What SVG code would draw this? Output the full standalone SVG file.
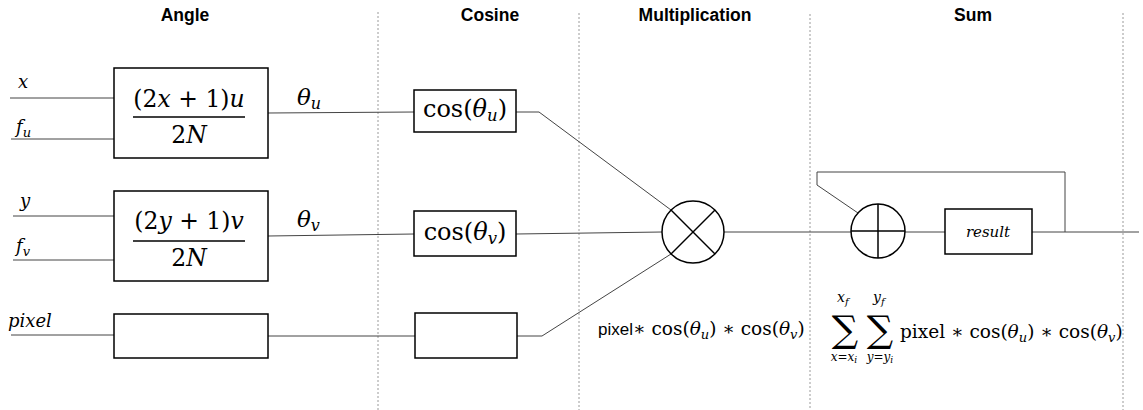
<svg xmlns="http://www.w3.org/2000/svg" width="1143" height="410" viewBox="0 0 1143 410">
<style>
.title{font-family:"Liberation Sans",Arial,sans-serif;font-weight:bold;font-size:17.5px;fill:#000;text-anchor:middle}
.m{font-family:"DejaVu Serif","Liberation Serif",serif;fill:#000}
.i{font-style:italic}
.box{fill:#fff;stroke:#000;stroke-width:1.5}
.sep{stroke:#9a9a9a;stroke-width:1;stroke-dasharray:2,2;fill:none}
.wire{stroke:#444;stroke-width:1;fill:none}
.sym{fill:#fff;stroke:#000;stroke-width:1.5}
.symline{stroke:#000;stroke-width:1.5}
.sans{font-family:"Liberation Sans",Arial,sans-serif}
</style>
<rect width="1143" height="410" fill="#fff"/>
<g id="separators">
<line class="sep" x1="378" y1="12" x2="378" y2="410"/>
<line class="sep" x1="579" y1="13" x2="579" y2="410"/>
<line class="sep" x1="810" y1="14" x2="810" y2="410"/>
<line class="sep" x1="1123" y1="13" x2="1123" y2="410"/>
</g>
<g id="titles">
<text class="title" x="185" y="21">Angle</text>
<text class="title" x="490" y="21">Cosine</text>
<text class="title" x="695" y="21">Multiplication</text>
<text class="title" x="973" y="21">Sum</text>
</g>
<g id="connectors">
<line class="wire" x1="10" y1="98" x2="114" y2="98"/>
<line class="wire" x1="11" y1="139" x2="114" y2="139"/>
<line class="wire" x1="13" y1="216" x2="114" y2="216"/>
<line class="wire" x1="13" y1="260" x2="114" y2="260"/>
<line class="wire" x1="11" y1="335" x2="114" y2="335"/>
<line class="wire" x1="268" y1="113" x2="414" y2="112"/>
<line class="wire" x1="268" y1="236" x2="414" y2="234"/>
<line class="wire" x1="268" y1="336" x2="415" y2="336"/>
<polyline class="wire" points="516,112 539,112 671,210"/>
<line class="wire" x1="516" y1="234" x2="662" y2="232"/>
<polyline class="wire" points="517,336 542,336 671,254"/>
<line class="wire" x1="724" y1="232" x2="851" y2="232"/>
<line class="wire" x1="905" y1="232" x2="945" y2="232"/>
<line class="wire" x1="1032" y1="232" x2="1139" y2="232"/>
<polyline class="wire" points="1065,232 1065,172 817,172 817,185 858,213"/>
</g>
<g id="label-inputs">
<text class="m i" x="18" y="88" font-size="18">x</text>
<text class="m" x="16" y="133" font-size="18"><tspan class="i">f</tspan><tspan class="i" font-size="13" dy="4">u</tspan></text>
<text class="m i" x="20" y="207" font-size="18">y</text>
<text class="m" x="16" y="252" font-size="18"><tspan class="i">f</tspan><tspan class="i" font-size="13" dy="4">v</tspan></text>
<text class="m i" x="8" y="327" font-size="18">pixel</text>
</g>
<g id="angle-u">
<rect class="box" x="114" y="68" width="154" height="90"/>
<text class="m" x="189" y="107" font-size="23.5" text-anchor="middle">(2<tspan class="i">x</tspan> + 1)<tspan class="i">u</tspan></text>
<line class="symline" x1="133" y1="117" x2="245" y2="117"/>
<text class="m" x="189" y="143" font-size="23.5" text-anchor="middle">2<tspan class="i">N</tspan></text>
</g>
<g id="angle-v">
<rect class="box" x="114" y="191" width="154" height="90"/>
<text class="m" x="189" y="229" font-size="23.5" text-anchor="middle">(2<tspan class="i">y</tspan> + 1)<tspan class="i">v</tspan></text>
<line class="symline" x1="133" y1="241" x2="245" y2="241"/>
<text class="m" x="189" y="266" font-size="23.5" text-anchor="middle">2<tspan class="i">N</tspan></text>
</g>
<g id="angle-pixel">
<rect class="box" x="114" y="314" width="154" height="44"/>
</g>
<g id="label-theta">
<text class="m" x="297" y="105" font-size="23"><tspan class="i">θ</tspan><tspan class="i" font-size="16" dy="4">u</tspan></text>
<text class="m" x="297" y="227" font-size="23"><tspan class="i">θ</tspan><tspan class="i" font-size="16" dy="4">v</tspan></text>
</g>
<g id="cos-u">
<rect class="box" x="414" y="90" width="102" height="42"/>
<text class="m" x="465" y="117" font-size="24" text-anchor="middle">cos(<tspan class="i">θ</tspan><tspan class="i" font-size="16.5" dy="4">u</tspan><tspan dy="-4">)</tspan></text>
</g>
<g id="cos-v">
<rect class="box" x="414" y="211" width="102" height="45"/>
<text class="m" x="465" y="240" font-size="24" text-anchor="middle">cos(<tspan class="i">θ</tspan><tspan class="i" font-size="16.5" dy="4">v</tspan><tspan dy="-4">)</tspan></text>
</g>
<g id="cos-pixel">
<rect class="box" x="415" y="313" width="102" height="45"/>
</g>
<g id="multiplier">
<circle class="sym" cx="693" cy="232" r="31"/>
<line class="symline" x1="671" y1="210" x2="715" y2="254"/>
<line class="symline" x1="715" y1="210" x2="671" y2="254"/>
</g>
<g id="mult-label">
<text class="m" x="598" y="335" font-size="18.5"><tspan class="sans" font-size="17">pixel</tspan>∗ cos(<tspan class="i">θ</tspan><tspan class="i" font-size="13" dy="4">u</tspan><tspan dy="-4">) ∗ cos(</tspan><tspan class="i">θ</tspan><tspan class="i" font-size="13" dy="4">v</tspan><tspan dy="-4">)</tspan></text>
</g>
<g id="adder">
<circle class="sym" cx="878" cy="231" r="27"/>
<line class="symline" x1="851" y1="231" x2="905" y2="231"/>
<line class="symline" x1="878" y1="204" x2="878" y2="258"/>
</g>
<g id="result">
<rect class="box" x="945" y="209" width="87" height="45"/>
<text class="m i" x="988" y="237" font-size="15" text-anchor="middle">result</text>
</g>
<g id="sum-label">
<text class="m" x="845" y="342" font-size="37" text-anchor="middle">∑</text>
<text class="m" x="880" y="342" font-size="37" text-anchor="middle">∑</text>
<text class="m" x="837" y="302" font-size="14"><tspan class="i">x</tspan><tspan class="i" font-size="10" dy="3">f</tspan></text>
<text class="m" x="873" y="302" font-size="14"><tspan class="i">y</tspan><tspan class="i" font-size="10" dy="3">f</tspan></text>
<text class="m" x="844" y="361" font-size="12" text-anchor="middle"><tspan class="i">x</tspan>=<tspan class="i">x</tspan><tspan class="i" font-size="9" dy="2">i</tspan></text>
<text class="m" x="880" y="361" font-size="12" text-anchor="middle"><tspan class="i">y</tspan>=<tspan class="i">y</tspan><tspan class="i" font-size="9" dy="2">i</tspan></text>
<text class="m" x="900" y="338" font-size="18.5">pixel ∗ cos(<tspan class="i">θ</tspan><tspan class="i" font-size="13" dy="4">u</tspan><tspan dy="-4">) ∗ cos(</tspan><tspan class="i">θ</tspan><tspan class="i" font-size="13" dy="4">v</tspan><tspan dy="-4">)</tspan></text>
</g>
</svg>
